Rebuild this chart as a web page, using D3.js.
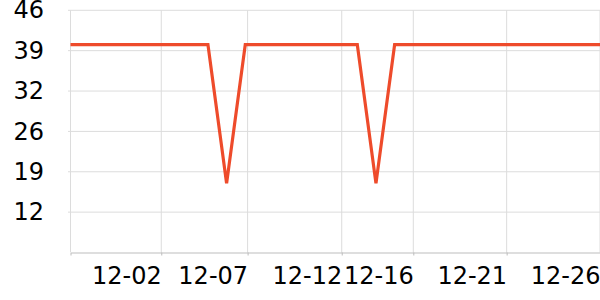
<!DOCTYPE html>
<html>
<head>
<meta charset="utf-8">
<script src="https://cdn.jsdelivr.net/npm/d3@7"></script>
<style>
  html, body { margin: 0; padding: 0; background: #fff; }
  svg { display: block; }
  text { font-family: "DejaVu Sans", sans-serif; }
</style>
</head>
<body>
<svg id="chart" width="600" height="300"></svg>
<script>
// ---- data ----
const dates = [
  "2014-11-27", "2014-11-28", "2014-11-29", "2014-11-30",
  "2014-12-01", "2014-12-02", "2014-12-03", "2014-12-04", "2014-12-05",
  "2014-12-06", "2014-12-07", "2014-12-08", "2014-12-09", "2014-12-10",
  "2014-12-11", "2014-12-12", "2014-12-13", "2014-12-14", "2014-12-15",
  "2014-12-16", "2014-12-17", "2014-12-18", "2014-12-19", "2014-12-20",
  "2014-12-21", "2014-12-22", "2014-12-23", "2014-12-24", "2014-12-25",
  "2014-12-26"
];
const values = [
  40.2, 40.2, 40.2, 40.2,
  40.2, 40.2, 40.2, 40.2, 40.2,
  16.7, 40.2, 40.2, 40.2, 40.2,
  40.2, 40.2, 40.2, 16.7, 40.2,
  40.2, 40.2, 40.2, 40.2, 40.2,
  40.2, 40.2, 40.2, 40.2, 40.2,
  40.2
];
const xDomain = ["2014-11-27T15:20", "2014-12-26T00:00"];
const xTickDates = ["2014-12-02T12:00", "2014-12-07T03:00", "2014-12-12T04:00",
                    "2014-12-16T00:00", "2014-12-21T00:00", "2014-12-26T00:00"];
const xTickLabels = ["12-02", "12-07", "12-12", "12-16", "12-21", "12-26"];
const yDomain = [5, 46];
const yTickLabels = ["12", "19", "26", "32", "39", "46"];

// ---- layout ----
const W = 600, H = 300;
const margin = { left: 70.5, right: 0, top: 10.3, bottom: 47.5 };
const parseDay = d3.utcParse("%Y-%m-%d");
const parseTime = d3.utcParse("%Y-%m-%dT%H:%M");

const data = dates.map((d, i) => ({ date: parseDay(d), value: values[i] }));

const x = d3.scaleUtc()
  .domain(xDomain.map(parseTime))
  .range([margin.left, W - margin.right]);
const y = d3.scaleLinear()
  .domain(yDomain)
  .range([H - margin.bottom, margin.top]);

const yStep = (yDomain[1] - yDomain[0]) / 6;
const yTickVals = d3.range(1, 7).map(k => yDomain[0] + k * yStep);
const xTickVals = xTickDates.map(parseTime);

const svg = d3.select("#chart");

// horizontal grid
svg.append("g")
  .selectAll("line")
  .data(yTickVals)
  .join("line")
  .attr("x1", margin.left - 2.5)
  .attr("x2", W - margin.right)
  .attr("y1", d => y(d))
  .attr("y2", d => y(d))
  .attr("stroke", "#dcdcdc")
  .attr("stroke-width", 1);

// vertical grid
svg.append("g")
  .selectAll("line")
  .data([x.domain()[0], ...xTickVals])
  .join("line")
  .attr("x1", d => x(d))
  .attr("x2", d => x(d))
  .attr("y1", margin.top)
  .attr("y2", H - margin.bottom)
  .attr("stroke", "#dcdcdc")
  .attr("stroke-width", 1);

// x axis
const xAxis = d3.axisBottom(x)
  .tickValues(xTickVals)
  .tickFormat((d, i) => xTickLabels[i])
  .tickSize(3)
  .tickSizeOuter(3);
const gx = svg.append("g")
  .attr("transform", `translate(0,${H - margin.bottom})`)
  .call(xAxis);
gx.select(".domain").attr("stroke", "#bdbdbd");
gx.selectAll(".tick line").attr("stroke", "#bdbdbd");
gx.selectAll(".tick text")
  .attr("text-anchor", "end")
  .attr("x", 0)
  .attr("dy", null)
  .attr("y", 31)
  .attr("fill", "#000")
  .attr("font-size", 24)
  .attr("font-family", "DejaVu Sans, sans-serif");

// y labels
const yAxis = d3.axisLeft(y)
  .tickValues(yTickVals)
  .tickFormat((d, i) => yTickLabels[i])
  .tickSize(0)
  .tickPadding(0);
const gy = svg.append("g")
  .attr("transform", `translate(44,0)`)
  .call(yAxis);
gy.select(".domain").remove();
gy.selectAll(".tick text")
  .attr("fill", "#000")
  .attr("font-size", 24)
  .attr("font-family", "DejaVu Sans, sans-serif");

// clip
svg.append("clipPath").attr("id", "plotclip")
  .append("rect")
  .attr("x", margin.left)
  .attr("y", 0)
  .attr("width", W - margin.right - margin.left)
  .attr("height", H);

// line
const line = d3.line()
  .x(d => x(d.date))
  .y(d => y(d.value));
svg.append("path")
  .datum(data)
  .attr("clip-path", "url(#plotclip)")
  .attr("fill", "none")
  .attr("stroke", "#ee4b2b")
  .attr("stroke-width", 3.2)
  .attr("stroke-linejoin", "miter")
  .attr("d", line);
</script>
</body>
</html>
